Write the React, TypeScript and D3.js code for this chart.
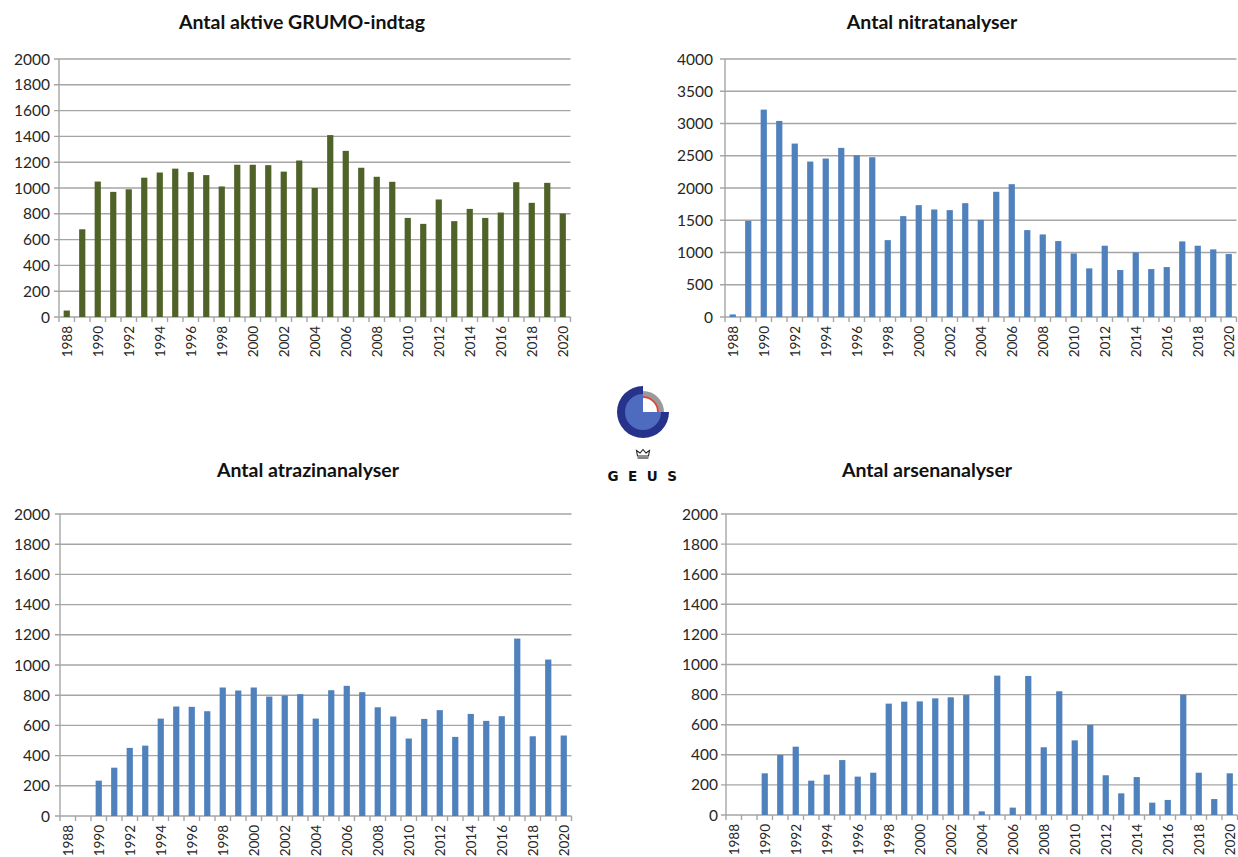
import React from "react";
import * as d3 from "d3";

const years: string[] = d3.range(1988, 2021).map(String);

const grumoValues: number[] = [50, 680, 1050, 970, 990, 1080, 1120, 1150, 1123, 1100, 1012, 1180, 1180, 1177, 1127, 1213, 1000, 1410, 1288, 1157, 1087, 1048, 768, 722, 911, 743, 838, 768, 810, 1045, 885, 1040, 802];
const nitratValues: number[] = [40, 1490, 3215, 3040, 2689, 2410, 2457, 2622, 2508, 2477, 1192, 1564, 1734, 1667, 1657, 1765, 1507, 1941, 2059, 1347, 1280, 1177, 986, 754, 1105, 728, 1001, 743, 774, 1172, 1105, 1048, 976];
const atrazinValues: number[] = [0, 0, 234, 320, 451, 466, 645, 725, 723, 694, 851, 831, 851, 791, 798, 807, 645, 833, 862, 820, 720, 659, 513, 643, 701, 524, 676, 630, 661, 1175, 528, 1036, 533];
const arsenValues: number[] = [0, 0, 277, 399, 454, 228, 268, 365, 255, 281, 740, 753, 755, 775, 782, 797, 24, 926, 49, 924, 450, 822, 496, 598, 264, 144, 252, 82, 100, 800, 281, 106, 277];

const grumoTicks: number[] = [0, 200, 400, 600, 800, 1000, 1200, 1400, 1600, 1800, 2000];
const nitratTicks: number[] = [0, 500, 1000, 1500, 2000, 2500, 3000, 3500, 4000];
const atrazinTicks: number[] = grumoTicks;
const arsenTicks: number[] = grumoTicks;

const titles: string[] = ["Antal aktive GRUMO-indtag", "Antal nitratanalyser", "Antal atrazinanalyser", "Antal arsenanalyser"];

const GREEN = "#4f6228";
const BLUE = "#4f81bd";
const GRID = "#a5a5a5";
const FONT = "Lato, 'Open Sans', sans-serif";
const STEP = 15.5;

type ChartProps = {
  title: string;
  values: number[];
  ticks: number[];
  color: string;
  left: number;
  top: number;
  bottom: number;
  titleX: number;
  titleY: number;
  labelRight: number;
};

function BarChart(p: ChartProps) {
  const width = 33 * STEP;
  const x = d3.scaleBand<string>().domain(years).range([p.left, p.left + width]).paddingInner(0.6).paddingOuter(0.3);
  const yMax = p.ticks[p.ticks.length - 1];
  const y = d3.scaleLinear().domain([0, yMax]).range([p.bottom, p.top]);
  const boundaries = d3.range(34).map((i) => p.left + i * (width / 33));
  return (
    <g>
      <text x={p.titleX} y={p.titleY} textAnchor="middle" fontFamily={FONT} fontWeight="bold" fontSize={19.5} fill="#111">
        {p.title}
      </text>
      {p.ticks.map((t) => (
        <g key={t}>
          <line x1={p.left - 5} x2={p.left + width} y1={y(t)} y2={y(t)} stroke={GRID} strokeWidth={1.4} />
          <text x={p.labelRight} y={y(t)} dy="0.36em" textAnchor="end" fontFamily={FONT} fontSize={15.5} fill="#262626">
            {t}
          </text>
        </g>
      ))}
      <line x1={p.left} x2={p.left} y1={p.top} y2={p.bottom} stroke={GRID} strokeWidth={1.4} />
      {boundaries.map((bx, i) => (
        <line key={i} x1={bx} x2={bx} y1={p.bottom} y2={p.bottom + 5} stroke={GRID} strokeWidth={1.4} />
      ))}
      {p.values.map((v, i) =>
        v > 0 ? (
          <rect key={i} x={x(years[i])!} y={y(v)} width={x.bandwidth()} height={p.bottom - y(v)} fill={p.color} />
        ) : null
      )}
      {years.map((yr, i) =>
        i % 2 === 0 ? (
          <text
            key={yr}
            transform={`translate(${x(yr)! + x.bandwidth() / 2},${p.bottom + 9}) rotate(-90)`}
            dy="0.36em"
            textAnchor="end"
            fontFamily={FONT}
            fontSize={13.5}
            fill="#262626"
          >
            {yr}
          </text>
        ) : null
      )}
    </g>
  );
}

function Logo() {
  const cx = 643;
  const cy = 412;
  const quarter = (r0: number, r1: number, a0: number, a1: number) =>
    d3.arc()({ innerRadius: r0, outerRadius: r1, startAngle: a0, endAngle: a1 }) as string;
  const PI = Math.PI;
  return (
    <g>
      <g transform={`translate(${cx},${cy})`}>
        <path d={quarter(0, 26, PI / 2, 2 * PI)} fill="#27338a" />
        <path d={quarter(0, 18, PI / 2, 2 * PI)} fill="#4d6cbf" />
        <path d={quarter(15.5, 21, 0, PI / 2)} fill="#9a9a9a" />
        <path d={quarter(14, 16, 0, PI / 2)} fill="#e0453a" />
      </g>
      <g transform={`translate(${cx},${cy + 42})`}>
        <path d="M-5.5,2 L-6.5,-3.5 L-3,-1 L0,-4.5 L3,-1 L6.5,-3.5 L5.5,2 Z" fill="none" stroke="#222" strokeWidth={1.1} />
        <line x1={-5.5} x2={5.5} y1={4} y2={4} stroke="#222" strokeWidth={1.1} />
      </g>
      <text x={cx + 4} y={cy + 69} textAnchor="middle" fontFamily="'DejaVu Sans', sans-serif" fontWeight="bold" fontSize={13.5} letterSpacing={9.5} fill="#111">
        GEUS
      </text>
    </g>
  );
}

export default function App() {
  return (
    <div style={{ position: "absolute", left: 0, top: 0 }}>
      <svg width={1238} height={857} style={{ display: "block", background: "#fff" }}>
        <BarChart title={titles[0]} values={grumoValues} ticks={grumoTicks} color={GREEN} left={59} top={59} bottom={317} titleX={302} titleY={29} labelRight={50} />
        <BarChart title={titles[1]} values={nitratValues} ticks={nitratTicks} color={BLUE} left={725} top={59} bottom={317} titleX={932} titleY={29} labelRight={713} />
        <BarChart title={titles[2]} values={atrazinValues} ticks={atrazinTicks} color={BLUE} left={60} top={514} bottom={816} titleX={308} titleY={477} labelRight={50} />
        <BarChart title={titles[3]} values={arsenValues} ticks={arsenTicks} color={BLUE} left={726} top={514} bottom={815} titleX={927} titleY={477} labelRight={718} />
        <Logo />
      </svg>
    </div>
  );
}
